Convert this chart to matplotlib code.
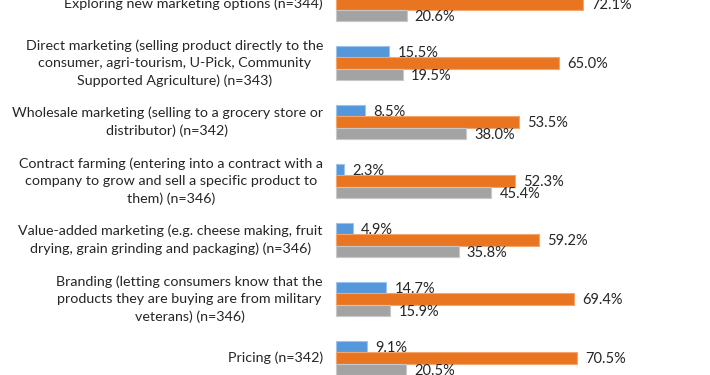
import matplotlib.pyplot as plt
import numpy as np

categories = [
    "Exploring new marketing options (n=344)",
    "Direct marketing (selling product directly to the\nconsumer, agri-tourism, U-Pick, Community\nSupported Agriculture) (n=343)",
    "Wholesale marketing (selling to a grocery store or\ndistributor) (n=342)",
    "Contract farming (entering into a contract with a\ncompany to grow and sell a specific product to\nthem) (n=346)",
    "Value-added marketing (e.g. cheese making, fruit\ndrying, grain grinding and packaging) (n=346)",
    "Branding (letting consumers know that the\nproducts they are buying are from military\nveterans) (n=346)",
    "Pricing (n=342)",
]
blue_vals = [7.3, 15.5, 8.5, 2.3, 4.9, 14.7, 9.1]
orange_vals = [72.1, 65.0, 53.5, 52.3, 59.2, 69.4, 70.5]
gray_vals = [20.6, 19.5, 38.0, 45.4, 35.8, 15.9, 20.5]

colors = ["#5597db", "#ea7520", "#a3a3a3"]
edges = ["#9cc3ec", "#f3a56c", "#c8c8c8"]

plt.rcParams['font.family'] = ['Lato', 'DejaVu Sans']

fig = plt.figure(figsize=(7.1, 3.75), dpi=100)
ax = fig.add_axes([0, 0, 1, 1])

y = np.arange(len(categories))
h = 0.195
for k, vals in enumerate([blue_vals, orange_vals, gray_vals]):
    pos = y + (k - 1) * h
    ax.barh(pos, vals, height=h, color=colors[k], edgecolor=edges[k], linewidth=0.8)
    for p, v in zip(pos, vals):
        ax.text(v + 2.4, p + 0.02, f"{v:.1f}%", va='center', ha='left',
                fontsize=10.5, color='#262626')

# category labels, centred lines, right edge next to the bars
for i, lab in enumerate(categories):
    ax.text(-3.8, i, lab, ha='right', va='center', multialignment='center',
            fontsize=10.3, color='#262626', linespacing=1.5)

ax.set_xlim(-98.07, 109.2)
ax.set_ylim(6.288, -0.068)
ax.axis('off')

fig.savefig("out.png", dpi=100)
